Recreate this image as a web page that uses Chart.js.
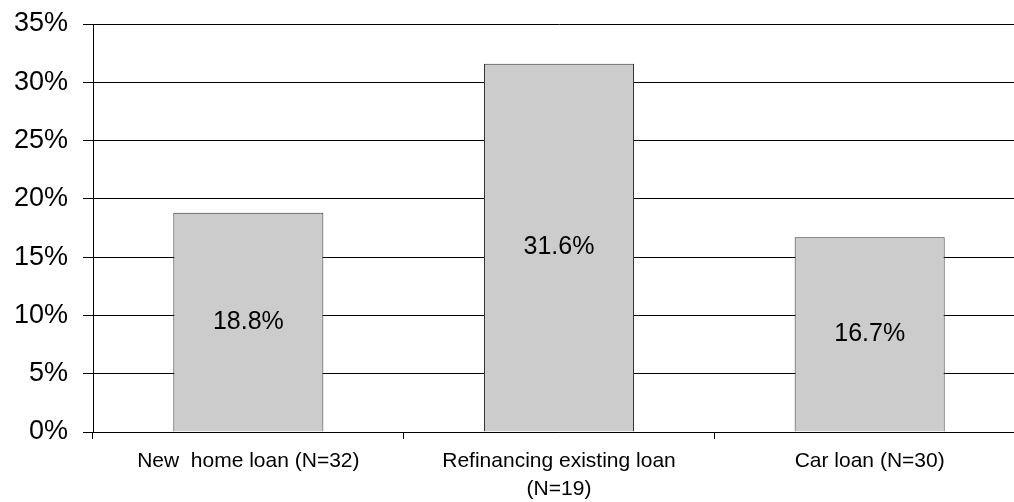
<!DOCTYPE html>
<html>
<head>
<meta charset="utf-8">
<script src="https://cdn.jsdelivr.net/npm/chart.js@4.4.1/dist/chart.umd.min.js"></script>
<style>
  html, body { margin: 0; padding: 0; background: #fff; overflow: hidden; }
  #wrap { width: 1025px; height: 502px; }
</style>
</head>
<body>
<div id="wrap"><canvas id="loanChart" width="1025" height="502"></canvas></div>
<script>
// categorias e valores (%)
const categories = ['New  home loan (N=32)', ['Refinancing existing loan', '(N=19)'], 'Car loan (N=30)'];
const shares = [18.8, 31.6, 16.7];
const yTicks = [0, 5, 10, 15, 20, 25, 30, 35];

const FONT = "Arial, 'Liberation Sans', sans-serif";

// rótulo de valor no meio de cada barra
const barLabels = {
  id: 'barLabels',
  afterDatasetsDraw(chart) {
    const ctx = chart.ctx;
    const meta = chart.getDatasetMeta(0);
    ctx.save();
    ctx.font = '25px ' + FONT;
    ctx.fillStyle = '#000';
    ctx.textAlign = 'center';
    ctx.textBaseline = 'middle';
    meta.data.forEach((bar, i) => {
      const mid = (bar.y + bar.base) / 2;
      ctx.fillText(shares[i].toFixed(1) + '%', bar.x, mid);
    });
    ctx.restore();
  }
};

new Chart(document.getElementById('loanChart'), {
  type: 'bar',
  data: {
    labels: categories,
    datasets: [{
      data: shares,
      backgroundColor: '#cccccc',
      borderColor: '#333333',
      borderWidth: 1,
      barPercentage: 0.483,
      categoryPercentage: 1
    }]
  },
  options: {
    responsive: false,
    animation: false,
    layout: { padding: { top: 24, left: 0, right: 0, bottom: 0 } },
    plugins: { legend: { display: false }, tooltip: { enabled: false } },
    scales: {
      x: {
        grid: { offset: true, drawOnChartArea: false, drawTicks: true, tickLength: 7, color: '#000' },
        border: { display: true, color: '#000' },
        ticks: { font: { family: FONT, size: 21, lineHeight: 1.33 }, color: '#000', padding: 8, maxRotation: 0 },
        afterFit(scale) { scale.height = 70; }
      },
      y: {
        min: 0,
        max: 35,
        afterBuildTicks(scale) { scale.ticks = yTicks.map(v => ({ value: v })); },
        grid: { color: '#000', tickLength: 10 },
        border: { display: true, color: '#000' },
        ticks: {
          font: { family: FONT, size: 27 },
          color: '#000',
          padding: 15,
          callback: v => v + '%'
        },
        afterFit(scale) {
          scale.width = 93;
          scale.paddingTop = 0;
          scale.paddingBottom = 0;
        }
      }
    }
  },
  plugins: [barLabels]
});
</script>
</body>
</html>
